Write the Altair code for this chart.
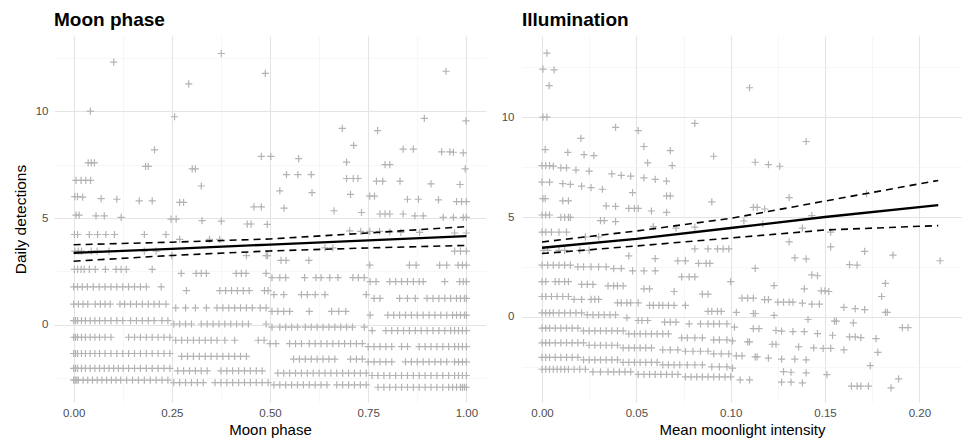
import altair as alt
import pandas as pd

# ---------------- Moon phase panel: partial residual bands (segment y, x values)
moon_b1 = [(-2.59, [0.0,0.004,0.008,0.012,0.024,0.036,0.048,0.06,0.072,0.084,0.096,0.108,0.12,0.135,0.15,0.165,0.18,0.195,0.21,0.225,0.24]),
           (-2.7, [0.255,0.27,0.285,0.3,0.315,0.33,0.36,0.375,0.39,0.405,0.42,0.435,0.45,0.465,0.48,0.495]),
           (-2.81, [0.51,0.525,0.54,0.555,0.57,0.585,0.6,0.615,0.63,0.645,0.67,0.685,0.7,0.715,0.73,0.745]),
           (-2.92, [0.775,0.79,0.805,0.82,0.835,0.85,0.865,0.88,0.895,0.91,0.925,0.94,0.955,0.965,0.975,0.985,0.99,0.995,1.0])]
moon_b2 = [(-2.04, [0.0,0.005,0.01,0.02,0.03,0.042,0.054,0.066,0.078,0.09,0.102,0.114,0.126,0.14,0.155,0.17,0.185,0.2,0.215,0.23,0.245]),
           (-2.15, [0.265,0.28,0.295,0.31,0.325,0.34,0.375,0.39,0.405,0.42,0.435,0.45,0.465,0.48]),
           (-2.26, [0.52,0.535,0.55,0.565,0.58,0.595,0.61,0.625,0.64,0.655,0.67,0.685,0.7,0.715,0.73,0.745]),
           (-2.37, [0.76,0.775,0.79,0.805,0.82,0.835,0.85,0.865,0.88,0.895,0.91,0.925,0.94,0.955,0.97,0.98,0.99,1.0])]
moon_b3 = [(-1.34, [0.0,0.005,0.01,0.02,0.03,0.042,0.054,0.066,0.08,0.095,0.11,0.125,0.14,0.155,0.17,0.185,0.2,0.215,0.23,0.245]),
           (-1.47, [0.275,0.29,0.305,0.32,0.335,0.35,0.365,0.38,0.395,0.41,0.425,0.44]),
           (-1.6, [0.56,0.575,0.59,0.605,0.62,0.635,0.65,0.665,0.705,0.72,0.735]),
           (-1.73, [0.75,0.765,0.78,0.795,0.81,0.845,0.86,0.875,0.89,0.905,0.92,0.935,0.95,0.97,0.98,0.99,1.0])]
moon_b4 = [(-0.58, [0.0,0.005,0.01,0.02,0.03,0.042,0.054,0.066,0.08,0.095,0.14,0.155,0.17,0.185,0.2,0.215,0.23,0.245]),
           (-0.72, [0.26,0.275,0.29,0.305,0.32,0.335,0.35,0.365,0.385,0.41,0.47,0.485]),
           (-0.88, [0.5,0.515,0.55,0.565,0.58,0.6,0.615,0.63,0.645,0.66,0.675,0.69,0.705,0.72,0.735]),
           (-1.02, [0.75,0.765,0.78,0.795,0.81,0.835,0.85,0.88,0.895,0.91,0.925,0.94,0.955,0.97,0.98,0.99,1.0])]
moon_b5 = [(0.2, [0.0,0.005,0.01,0.02,0.03,0.042,0.054,0.066,0.08,0.095,0.11,0.125,0.145,0.16,0.175,0.19,0.205,0.225,0.24]),
           (0.04, [0.255,0.27,0.285,0.3,0.325,0.34,0.355,0.37,0.385,0.4,0.415,0.43,0.445,0.49]),
           (-0.11, [0.505,0.525,0.54,0.555,0.57,0.59,0.605,0.62,0.635,0.65,0.665,0.68,0.695,0.71,0.74]),
           (-0.27, [0.76,0.795,0.81,0.825,0.84,0.855,0.87,0.885,0.9,0.915,0.93,0.945,0.96,0.97,0.98,0.99,1.0])]
moon_b6 = [(0.97, [0.0,0.012,0.024,0.036,0.055,0.068,0.08,0.093,0.118,0.13,0.145,0.16,0.175,0.19,0.205,0.218,0.235]),
           (0.8, [0.26,0.285,0.31,0.338,0.365,0.38,0.395,0.41,0.425,0.44,0.455,0.475,0.49]),
           (0.63, [0.505,0.52,0.535,0.55,0.6,0.657,0.675,0.693]),
           (0.46, [0.755,0.8,0.815,0.83,0.845,0.86,0.875,0.89,0.905,0.92,0.935,0.95,0.965,0.975,0.985,0.995,1.0])]
moon_b7 = [(1.78, [0.0,0.01,0.022,0.035,0.05,0.065,0.08,0.095,0.11,0.125,0.14,0.155,0.17,0.185,0.223]),
           (1.6, [0.287,0.372,0.387,0.402,0.417,0.432,0.447,0.486,0.495]),
           (1.42, [0.51,0.535,0.58,0.595,0.615,0.64,0.745]),
           (1.24, [0.765,0.78,0.83,0.85,0.87,0.9,0.915,0.93,0.945,0.96,0.975,0.985,0.995,1.0])]
moon_b8 = [(2.6, [0.002,0.01,0.019,0.027,0.04,0.055,0.081,0.108,0.121,0.134,0.2]),
           (2.41, [0.274,0.312,0.325,0.338,0.414,0.427,0.439,0.49]),
           (2.21, [0.505,0.525,0.54,0.588,0.617,0.63,0.652,0.673,0.711,0.725,0.74]),
           (2.02, [0.755,0.77,0.805,0.82,0.835,0.85,0.865,0.88,0.89,0.945,0.983,0.992,1.0])]
moon_b9 = [(3.45, [0.003,0.012,0.02,0.045,0.06,0.09,0.18,0.21]),
           (3.24, [0.25,0.44,0.49,0.494]),
           (3.02, [0.528,0.541,0.599]),
           (2.8, [0.754,0.855,0.872,0.932,0.95,0.979,0.99,1.0])]
moon_b10 = [(4.23, [0.002,0.01,0.04,0.061,0.082,0.104,0.18,0.235]),
            (4.0, [0.27,0.346,0.372]),
            (3.6, [0.64,0.66]),
            (3.45, [0.97,0.985,1.0])]

moon_top_x = [0.006,0.014,0.057,0.078,0.121,0.248,0.261,0.327,0.376,0.442,0.452,0.493,
              0.703,0.731,0.754,0.779,0.805,0.833,0.881,0.97,1.0,
              0.003,0.01,0.023,0.07,0.11,0.167,0.2,0.27,0.28,
              0.006,0.019,0.031,0.043,0.037,0.045,0.053,
              0.183,0.19,0.302,0.31,0.325,0.206,0.0425,0.102,0.376,0.293,0.257,0.488,
              0.478,0.502,0.573,0.542,0.571,0.605,0.525,0.607,0.536,0.459,0.478,
              0.695,0.695,0.712,0.724,0.705,0.663,0.733,
              0.793,0.805,0.771,0.787,0.831,0.754,0.766,0.78,0.793,0.805,0.839,
              0.839,0.865,0.85,0.878,0.869,0.89,0.91,0.929,
              0.937,0.958,0.967,0.992,0.997,0.984,0.975,0.988,1.0,0.941,0.967,0.992,1.0,
              0.684,0.774,0.713,0.893,0.999,0.948]
moon_top_y = [5.14,5.14,5.1,5.1,5.03,4.95,4.95,4.88,4.86,4.72,4.72,4.7,
              4.4,4.38,4.38,4.38,4.35,4.33,4.33,4.3,4.3,
              6.0,6.0,5.98,5.91,5.88,5.8,5.8,5.73,5.73,
              6.76,6.76,6.76,6.76,7.58,7.58,7.58,
              7.42,7.42,7.3,7.3,6.5,8.19,10.0,12.3,12.7,11.28,9.74,11.77,
              7.89,7.89,7.78,7.03,7.03,7.03,6.27,6.19,5.46,5.52,5.52,
              7.62,6.85,6.85,6.85,6.11,5.34,5.26,
              7.5,7.5,6.73,6.73,6.73,6.03,6.03,5.19,5.19,5.19,5.19,
              8.23,8.23,5.88,5.88,5.1,5.1,6.6,5.85,
              8.1,8.1,8.08,8.05,7.3,6.57,5.77,5.77,5.77,5.03,5.03,5.03,5.03,
              9.2,9.09,8.4,9.66,9.55,11.87]

moon_fit_x = [0.0, 0.25, 0.5, 0.75, 1.0]
moon_fit = [3.37, 3.56, 3.76, 3.95, 4.15]
moon_hi = [3.75, 3.87, 4.02, 4.3, 4.6]
moon_lo = [2.98, 3.25, 3.46, 3.6, 3.72]

# ---------------- Illumination panel
ill_b1 = [(-2.62, [0.0,0.002,0.004,0.006,0.008,0.01,0.012,0.014,0.017,0.02,0.023]),
          (-2.75, [0.027,0.031,0.035,0.038,0.041,0.044,0.047]),
          (-2.88, [0.051,0.054,0.057,0.06,0.063,0.066,0.069,0.072]),
          (-3.0, [0.076,0.079,0.082,0.085,0.088,0.091,0.094,0.097,0.1]),
          (-3.15, [0.105,0.11])]
ill_b2 = [(-2.03, [0.0,0.002,0.004,0.007,0.01,0.013,0.016,0.019]),
          (-2.15, [0.022,0.025,0.028,0.031,0.034,0.037,0.04]),
          (-2.28, [0.043,0.046,0.049,0.052,0.055,0.058,0.061]),
          (-2.4, [0.064,0.067,0.07,0.073,0.077,0.081,0.085]),
          (-2.5, [0.09,0.094,0.098])]
ill_b3 = [(-1.3, [0.0,0.002,0.004,0.007,0.01,0.013,0.016,0.019,0.022]),
          (-1.42, [0.025,0.028,0.031,0.034,0.037,0.04]),
          (-1.55, [0.043,0.046,0.049,0.052,0.055,0.058]),
          (-1.65, [0.064,0.068,0.072]),
          (-1.72, [0.076,0.08,0.084,0.088]),
          (-1.85, [0.091,0.095,0.099])]
ill_b4 = [(-0.56, [0.0,0.002,0.004,0.007,0.01,0.013,0.016,0.019]),
          (-0.7, [0.022,0.025,0.028,0.031,0.034,0.037,0.04,0.043]),
          (-0.85, [0.046,0.049,0.052,0.055,0.058,0.061,0.064,0.067]),
          (-1.05, [0.074,0.077,0.081,0.085]),
          (-1.15, [0.091,0.094,0.098])]
ill_b5 = [(0.2, [0.0,0.002,0.004,0.006,0.009,0.012,0.015,0.018,0.021]),
          (0.1, [0.024,0.027,0.03,0.033,0.036,0.039]),
          (-0.05, [0.045]),
          (-0.18, [0.051,0.053,0.056]),
          (-0.26, [0.065,0.068,0.071]),
          (-0.35, [0.078,0.084,0.088,0.091,0.094,0.098])]
ill_b6 = [(1.02, [0.0,0.002,0.005,0.008,0.011,0.014]),
          (0.88, [0.017,0.021,0.026,0.028,0.03]),
          (0.7, [0.04,0.042,0.045,0.047,0.051]),
          (0.58, [0.057,0.059,0.062,0.064,0.067,0.07,0.076]),
          (0.28, [0.088,0.09,0.093,0.095])]
ill_b7 = [(1.77, [0.0,0.002,0.007,0.009,0.012,0.014]),
          (1.63, [0.021,0.024,0.027]),
          (1.55, [0.035,0.038,0.04,0.043]),
          (1.4, [0.054,0.057]),
          (1.27, [0.07]),
          (1.14, [0.085,0.088])]
ill_b8 = [(2.59, [0.0,0.003,0.006,0.009,0.012,0.015]),
          (2.5, [0.019,0.022,0.026,0.03,0.034]),
          (2.42, [0.038,0.042]),
          (2.3, [0.048,0.054,0.06]),
          (2.0, [0.074,0.078,0.081])]
ill_b9 = [(3.33, [0.001,0.003,0.009,0.012,0.02,0.025]),
          (3.05, [0.046]),
          (2.92, [0.06]),
          (2.8, [0.072,0.076]),
          (2.68, [0.083,0.087,0.089]),
          (3.4, [0.081,0.088,0.093,0.096,0.099])]
ill_b10 = [(4.24, [0.0,0.002,0.005,0.009,0.013]),
           (4.0, [0.023,0.03])]

ill_top_x = [0.0026,0.0005,0.0064,0.0038,0.0005,0.0026,0.11,0.081,0.14,0.0017,0.0206,0.0137,0.0223,0.0275,
             0.039,0.051,0.054,0.056,0.068,0.069,0.091,0.113,0.12,0.126,0.131,0.172,0.09,0.143,
             0.0,0.002,0.004,0.006,0.01,0.013,0.018,0.025,0.037,0.042,0.047,0.054,0.06,0.066,
             0.0,0.004,0.011,0.015,0.021,0.026,0.032,0.048,
             0.0005,0.0017,0.011,0.014,0.034,0.039,0.046,0.049,0.051,0.058,0.066,0.066,0.068,
             0.0,0.002,0.004,0.01,0.012,0.014,0.015,0.031,0.033,0.039,0.059,0.071,0.081,
             0.107,0.117,0.112,0.114,0.118,0.138,0.153]
ill_top_y = [13.2,12.4,12.36,11.58,10.0,10.0,11.47,9.69,8.78,8.37,8.94,8.23,8.12,8.07,
             9.49,9.32,8.53,7.71,8.32,7.57,8.04,7.74,7.62,7.54,5.97,6.17,5.76,5.07,
             7.57,7.57,7.57,7.55,7.46,7.46,7.35,7.3,7.16,7.08,7.05,6.96,6.88,6.8,
             6.75,6.75,6.67,6.63,6.55,6.47,6.39,6.22,
             5.92,5.92,5.81,5.81,5.56,5.53,5.43,5.43,5.43,5.3,5.23,6.06,6.06,
             5.1,5.1,5.1,4.98,4.98,4.98,4.98,4.82,4.82,4.77,4.52,4.44,4.49,
             4.8,4.65,5.48,5.48,5.4,4.44,4.24]

# sparse points beyond x = 0.1
ill_right_x = [0.131,0.153,0.171,0.186,0.211,0.134,0.14,0.163,0.167,0.113,0.143,0.146,0.182,0.1,0.123,0.139,
               0.148,0.15,0.152,0.18,0.106,0.109,0.112,0.118,0.12,0.125,0.128,0.131,0.133,0.138,0.143,0.147,
               0.16,0.166,0.171,0.182,0.183,0.103,0.112,0.113,0.123,0.141,0.155,0.156,0.165,0.191,0.194,
               0.102,0.112,0.115,0.124,0.127,0.133,0.139,0.146,0.154,0.163,0.166,0.169,0.177,0.101,0.109,0.11,
               0.122,0.124,0.136,0.144,0.149,0.153,0.16,0.178,0.103,0.106,0.113,0.114,0.12,0.127,0.134,0.14,
               0.174,0.101,0.128,0.132,0.14,0.151,0.127,0.132,0.138,0.164,0.167,0.169,0.173,0.185,0.189]
ill_right_y = [3.75,3.5,3.28,3.09,2.81,2.95,2.9,2.62,2.59,2.43,2.1,2.06,1.68,1.77,1.57,1.4,
               1.3,1.3,1.27,1.02,0.94,0.94,0.94,0.86,0.86,0.74,0.74,0.74,0.74,0.69,0.64,0.64,
               0.48,0.41,0.36,0.23,0.23,0.23,0.17,0.17,0.08,-0.13,-0.21,-0.21,-0.3,-0.54,-0.54,
               -0.51,-0.59,-0.59,-0.68,-0.71,-0.74,-0.74,-0.84,-0.92,-1.0,-1.0,-1.04,-1.09,-1.2,-1.25,-1.25,
               -1.37,-1.37,-1.5,-1.55,-1.58,-1.58,-1.65,-1.78,-1.95,-1.95,-2.0,-2.0,-2.06,-2.11,-2.11,-2.15,
               -2.44,-2.56,-2.74,-2.77,-2.8,-2.89,-3.27,-3.27,-3.3,-3.47,-3.47,-3.47,-3.47,-3.55,-3.1]

ill_fit_x = [0.0, 0.05, 0.1, 0.15, 0.21]
ill_fit = [3.46, 3.9, 4.45, 5.0, 5.59]
ill_hi = [3.75, 4.3, 4.93, 5.8, 6.83]
ill_lo = [3.17, 3.55, 3.95, 4.35, 4.57]


def band_rows(bands):
    rows = []
    for band in bands:
        for yv, xs in band:
            for xv in xs:
                rows.append({"x": xv, "y": yv})
    return rows


moon_pts = pd.DataFrame(
    band_rows([moon_b1, moon_b2, moon_b3, moon_b4, moon_b5, moon_b6, moon_b7, moon_b8, moon_b9, moon_b10])
    + [{"x": a, "y": b} for a, b in zip(moon_top_x, moon_top_y)])
ill_pts = pd.DataFrame(
    band_rows([ill_b1, ill_b2, ill_b3, ill_b4, ill_b5, ill_b6, ill_b7, ill_b8, ill_b9, ill_b10])
    + [{"x": a, "y": b} for a, b in zip(ill_top_x, ill_top_y)]
    + [{"x": a, "y": b} for a, b in zip(ill_right_x, ill_right_y)])

moon_line = pd.DataFrame({"x": moon_fit_x, "fit": moon_fit, "hi": moon_hi, "lo": moon_lo})
ill_line = pd.DataFrame({"x": ill_fit_x, "fit": ill_fit, "hi": ill_hi, "lo": ill_lo})

FONT = "Liberation Sans"
PLUS = "M-1,0H1M0,-1V1"
PT_COLOR = "#b3b3b3"

y_vals = [-2.5, 0, 2.5, 5, 7.5, 10, 12.5]
y_grid_color = {"condition": {"test": "datum.value % 5 === 0", "value": "#e4e4e4"}, "value": "#f1f1f1"}
y_grid_width = {"condition": {"test": "datum.value % 5 === 0", "value": 1.1}, "value": 0.6}
y_label = "datum.value % 5 === 0 ? format(datum.value, 'd') : ''"


def panel(pts, line, xdom, ydom, xvals, xtest, xtitle, ytitle, title, width, lab_pad):
    xaxis = alt.Axis(values=xvals, title=xtitle,
                     labelExpr=f"{xtest} ? format(datum.value, '.2f') : ''",
                     gridColor={"condition": {"test": xtest, "value": "#e4e4e4"}, "value": "#f1f1f1"},
                     gridWidth={"condition": {"test": xtest, "value": 1.1}, "value": 0.6},
                     labelPadding=5, titlePadding=4,
                     labelFont=FONT, titleFont=FONT, labelFontSize=11.5, labelColor="#4d4d4d",
                     titleFontSize=15, titleFontWeight="normal", titleColor="black",
                     domain=False, ticks=False)
    yaxis = alt.Axis(values=y_vals, title=ytitle, labelExpr=y_label,
                     gridColor=y_grid_color, gridWidth=y_grid_width,
                     labelPadding=lab_pad, titlePadding=7,
                     labelFont=FONT, titleFont=FONT, labelFontSize=11.5, labelColor="#4d4d4d",
                     titleFontSize=15.5, titleFontWeight="normal", titleColor="black",
                     domain=False, ticks=False)
    xs = alt.Scale(domain=xdom, nice=False, zero=False)
    ys = alt.Scale(domain=ydom, nice=False, zero=False)
    pts_layer = alt.Chart(pts).mark_point(shape=PLUS, filled=False, size=52, strokeWidth=1.2,
                                          color=PT_COLOR, opacity=1).encode(
        x=alt.X("x:Q", scale=xs, axis=xaxis),
        y=alt.Y("y:Q", scale=ys, axis=yaxis))
    base = alt.Chart(line)
    fit = base.mark_line(color="black", strokeWidth=2.3).encode(x="x:Q", y="fit:Q")
    hi = base.mark_line(color="black", strokeWidth=1.6, strokeDash=[7, 5]).encode(x="x:Q", y="hi:Q")
    lo = base.mark_line(color="black", strokeWidth=1.6, strokeDash=[7, 5]).encode(x="x:Q", y="lo:Q")
    return alt.layer(pts_layer, lo, hi, fit).properties(
        width=width, height=366,
        title=alt.TitleParams(title, anchor="start", frame="group", fontSize=19, fontWeight="bold",
                              font=FONT, color="black", offset=6))


left = panel(moon_pts, moon_line, [-0.05, 1.05], [-3.61, 13.52],
             [0, 0.125, 0.25, 0.375, 0.5, 0.625, 0.75, 0.875, 1.0],
             "round(datum.value*1000) % 250 === 0", "Moon phase", "Daily detections",
             "Moon phase", 432, 6)
right = panel(ill_pts, ill_line, [-0.0106, 0.2226], [-4.26, 14.06],
              [0, 0.025, 0.05, 0.075, 0.1, 0.125, 0.15, 0.175, 0.2],
              "round(datum.value*1000) % 50 === 0", "Mean moonlight intensity", None,
              "Illumination", 440, 8)

chart = alt.hconcat(left, right, spacing=15).properties(
    padding={"left": 5, "top": 3, "right": 0, "bottom": 0},
    background="white"
).configure_view(stroke=None)

chart.save("out.html", embed_options={"renderer": "svg", "actions": False})
